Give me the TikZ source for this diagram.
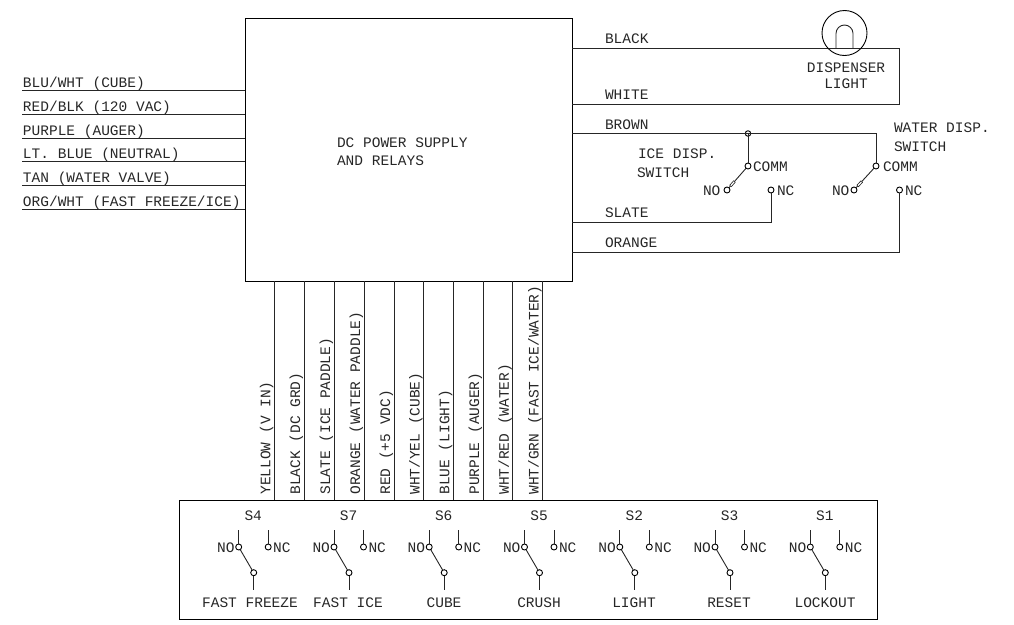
\documentclass[tikz,border=0pt]{standalone}
\usepackage{fontspec}
\usetikzlibrary{calc}
\setmainfont{Liberation Mono}
\begin{document}
\begin{tikzpicture}[x=1pt,y=-1pt,line width=0.9pt,
  txt/.style={inner sep=0pt,outer sep=0pt,font=\fontsize{14.5}{16}\selectfont,text=black!85},
  lbl/.style={txt,anchor=base west},
  clbl/.style={txt,anchor=base},
  vlbl/.style={txt,anchor=base west,rotate=90},
  box/.style={draw,anchor=north west,inner sep=0pt,outer sep=0pt},
  contact/.style={draw,circle,minimum size=6pt,inner sep=0pt,outer sep=0pt},
  wire/.style={draw=black!85}]
\useasboundingbox (0,0) rectangle (1014,624);
% boxes
\node[box,minimum width=327pt,minimum height=263pt] (psu) at (245,18) {};
\node[box,minimum width=698pt,minimum height=119pt] (panel) at (179,500) {};
\node[lbl] (psut1) at (337,147) {DC POWER SUPPLY};
\node[lbl] (psut2) at (337,165) {AND RELAYS};
% left wires
\foreach \n/\y/\t in {a/90.5/BLU\slash WHT (CUBE),b/114/RED\slash BLK (120 VAC),c/138/PURPLE (AUGER),d/161/LT. BLUE (NEUTRAL),e/185/TAN (WATER VALVE),f/209/ORG\slash WHT (FAST FREEZE\slash ICE)}{
  \coordinate (l\n) at (22,\y);
  \draw[wire] (l\n) -- (l\n -| psu.west);
  \node[lbl] (lt\n) at ([xshift=1pt,yshift=3pt]l\n) {\t};
}
% bottom wires
\foreach \n/\x/\t in {a/274.3/YELLOW (V IN),b/304.2/BLACK (DC GRD),c/334/SLATE (ICE PADDLE),d/364/ORANGE (WATER PADDLE),e/394/RED (+5 VDC),f/423.5/WHT\slash YEL (CUBE),g/453.3/BLUE (LIGHT),h/483/PURPLE (AUGER),i/512.8/WHT\slash RED (WATER),j/542.5/WHT\slash GRN (FAST ICE\slash WATER)}{
  \coordinate (w\n) at (\x,500);
  \draw[wire] (w\n) -- (w\n |- psu.south);
  \node[vlbl] (wt\n) at ([xshift=-4pt,yshift=5.5pt]w\n) {\t};
}
% right side wires
\coordinate (rblack) at (899.5,48);
\coordinate (rwhite) at (899.5,104);
\draw[wire] (rblack -| psu.east) -- (rblack) -- (rwhite) -- (rwhite -| psu.east);
\node[lbl] (tblack) at (605,43) {BLACK};
\node[lbl] (twhite) at (605,99) {WHITE};
\node[lbl] (tbrown) at (605,129) {BROWN};
\node[lbl] (tslate) at (605,217) {SLATE};
\node[lbl] (torange) at (605,247) {ORANGE};
% lamp
\node[draw,circle,minimum size=45pt,inner sep=0pt] (lamp) at (844.5,33) {};
\draw[wire] (836,48) -- (836,33.5) arc[start angle=180,end angle=360,radius=8.5] -- (853,48);
\node[clbl] (tdisp) at (846,72) {DISPENSER};
\node[clbl] (tlight) at (846,88) {LIGHT};
% ice / water switches
\node[contact,minimum size=5.5pt] (junc) at (748,133.5) {};
\coordinate (wcorner) at (876,133.5);
\node[contact] (icomm) at (748,166) {};
\node[contact] (ino) at (727,190) {};
\node[contact] (inc) at (771,190) {};
\node[contact] (wcomm) at (876,166) {};
\node[contact] (wno) at (854,190) {};
\node[contact] (wnc) at (899.5,190) {};
\coordinate (rbrown) at (572,133.5);
\draw[wire] (rbrown) -- (junc.center) -- (wcorner) -- (wcomm);
\draw[wire] (junc.center) -- (icomm);
\draw[wire] (icomm) -- (ino);
\draw[wire] (wcomm) -- (wno);
\coordinate (rslate) at (572,222);
\coordinate (rorange) at (572,252);
\draw[wire] (rslate) -| (inc);
\draw[wire] (rorange) -| (wnc);
\foreach \a/\b in {icomm/ino,wcomm/wno}{
  \draw[black!85,line width=2.8pt] ($(\b)!0.16!(\a)$) -- ($(\b)!0.36!(\a)$);
  \draw[white,line width=1.2pt] ($(\b)!0.18!(\a)$) -- ($(\b)!0.34!(\a)$);
}
\node[lbl] (ticom) at (753,171) {COMM};
\node[lbl] (tino) at (703,195) {NO};
\node[lbl] (tinc) at (777,195) {NC};
\node[lbl] (twcom) at (883,171) {COMM};
\node[lbl] (twno) at (832,195) {NO};
\node[lbl] (twnc) at (905,195) {NC};
\node[lbl] (tice1) at (638,158) {ICE DISP.};
\node[lbl] (tice2) at (637,177) {SWITCH};
\node[lbl] (twat1) at (894,132) {WATER DISP.};
\node[lbl] (twat2) at (894,151) {SWITCH};
% panel switches
\foreach \n/\x/\s/\t/\c in {a/238.7/S4/FAST FREEZE/250,b/334/S7/FAST ICE/348,c/429.2/S6/CUBE/444,d/524.5/S5/CRUSH/539,e/619.8/S2/LIGHT/634,f/715/S3/RESET/729,g/810.3/S1/LOCKOUT/825}{
  \node[contact] (no\n) at (\x,547) {};
  \node[contact] (nc\n) at ([xshift=29.5pt]no\n) {};
  \node[contact] (com\n) at ([xshift=15pt,yshift=-25.7pt]no\n) {};
  \coordinate (tno\n) at ([yshift=17pt]no\n);
  \coordinate (tnc\n) at ([yshift=17pt]nc\n);
  \coordinate (bcom\n) at ([yshift=-17.5pt]com\n);
  \draw[wire] (tno\n) -- (no\n);
  \draw[wire] (tnc\n) -- (nc\n);
  \draw[wire] (no\n) -- (com\n);
  \draw[wire] (com\n) -- (bcom\n);
  \node[lbl] (tn\n) at ([xshift=-21.5pt,yshift=-5pt]no\n) {NO};
  \node[lbl] (tc\n) at ([xshift=5pt,yshift=-5pt]nc\n) {NC};
  \node[clbl] (ts\n) at (\x+14.5,520) {\s};
  \node[clbl] (tb\n) at (\c,607) {\t};
}
\end{tikzpicture}
\end{document}
